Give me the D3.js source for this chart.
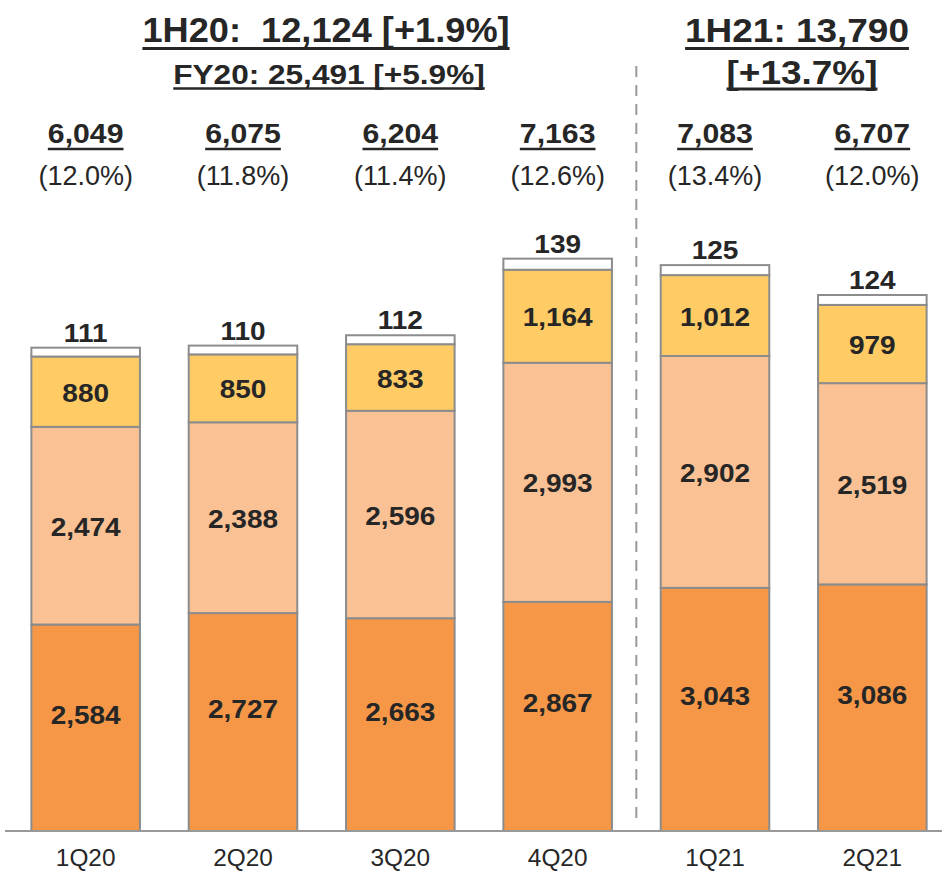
<!DOCTYPE html>
<html>
<head>
<meta charset="utf-8">
<script src="https://cdn.jsdelivr.net/npm/d3@7"></script>
<style>
  body { margin: 0; background: #fff; }
  text { font-family: "Liberation Sans", Arial, sans-serif; fill: #262626; white-space: pre; }
</style>
</head>
<body>
<div id="chart"></div>
<script>
var categories = ["1Q20", "2Q20", "3Q20", "4Q20", "1Q21", "2Q21"]
var seg1 = [2584, 2727, 2663, 2867, 3043, 3086]
var seg2 = [2474, 2388, 2596, 2993, 2902, 2519]
var seg3 = [880, 850, 833, 1164, 1012, 979]
var seg4 = [111, 110, 112, 139, 125, 124]
var totals = [6049, 6075, 6204, 7163, 7083, 6707]
var margins = ["(12.0%)", "(11.8%)", "(11.4%)", "(12.6%)", "(13.4%)", "(12.0%)"]
var headLeft = ["1H20:  12,124 [+1.9%]", "FY20: 25,491 [+5.9%]"]
var headRight = ["1H21: 13,790", "[+13.7%]"]

var colors = ["#f59747", "#f9c194", "#fecb64", "#ffffff"]
var W = 942, H = 874
var STRETCH = 1.12   // bold labels in the source are a bit wide

var svg = d3.select("#chart").append("svg")
  .attr("width", W).attr("height", H)

var x = d3.scaleBand()
  .domain(categories)
  .range([7, 951])
  .paddingInner(0.31)
  .paddingOuter(0.155)

var y = d3.scaleLinear()
  .domain([0, 10400])
  .range([831, 0])

var fmt = d3.format(",")

// text drawn slightly stretched horizontally, centered on cx
function wideText(txt, cx, by, size, weight, sx) {
  var g = svg.append("g")
    .attr("transform", "translate(" + cx + "," + by + ") scale(" + sx + ",1)")
  var t = g.append("text")
    .attr("text-anchor", "middle")
    .attr("font-size", size)
    .attr("font-weight", weight)
    .text(txt)
  return t.node().getComputedTextLength() * sx
}

function underlined(txt, cx, by, size, gap, thick, sx) {
  var w = wideText(txt, cx, by, size, "bold", sx || STRETCH)
  svg.append("line")
    .attr("x1", cx - w / 2).attr("x2", cx + w / 2)
    .attr("y1", by + gap).attr("y2", by + gap)
    .attr("stroke", "#262626").attr("stroke-width", thick)
}

// build stacked rows
var rows = categories.map(function(c, i) {
  return { cat: c, s0: seg1[i], s1: seg2[i], s2: seg3[i], s3: seg4[i] }
})
var stack = d3.stack().keys(["s0", "s1", "s2", "s3"])(rows)

var layers = svg.selectAll("g.layer")
  .data(stack)
  .enter().append("g")
  .attr("class", "layer")
  .attr("fill", function(d, i) { return colors[i] })

layers.selectAll("rect")
  .data(function(d) { return d })
  .enter().append("rect")
  .attr("x", function(d) { return x(d.data.cat) })
  .attr("y", function(d) { return y(d[1]) })
  .attr("width", x.bandwidth())
  .attr("height", function(d) { return y(d[0]) - y(d[1]) })
  .attr("stroke", "#8c8c8c")
  .attr("stroke-width", 2)

// labels inside bars (first three segments)
stack.slice(0, 3).forEach(function(layer, li) {
  var shift = li == 0 ? -4 : 10
  layer.forEach(function(d) {
    var cx = x(d.data.cat) + x.bandwidth() / 2
    var mid = (y(d[0]) + y(d[1])) / 2
    wideText(fmt(d[1] - d[0]), cx, mid + shift, 25, "bold", STRETCH)
  })
})

// top segment labels above the bar
stack[3].forEach(function(d) {
  var cx = x(d.data.cat) + x.bandwidth() / 2
  wideText(fmt(d[1] - d[0]), cx, y(d[1]) - 6, 25, "bold", STRETCH)
})

// axis line
svg.append("line")
  .attr("x1", 5).attr("x2", W)
  .attr("y1", y(0)).attr("y2", y(0))
  .attr("stroke", "#999").attr("stroke-width", 2)

// category labels
categories.forEach(function(c) {
  wideText(c, x(c) + x.bandwidth() / 2, 866, 23, "normal", 1.06)
})

// dashed separator between 4Q20 and 1Q21
var sepX = (x("4Q20") + x.bandwidth() + x("1Q21")) / 2
svg.append("line")
  .attr("x1", sepX).attr("x2", sepX)
  .attr("y1", 66).attr("y2", 826)
  .attr("stroke", "#999").attr("stroke-width", 2)
  .attr("stroke-dasharray", "11,8")

// totals and margins above each bar
categories.forEach(function(c, i) {
  var cx = x(c) + x.bandwidth() / 2
  underlined(fmt(totals[i]), cx, 143, 27, 6, 2.5)
  svg.append("text")
    .attr("x", cx).attr("y", 185)
    .attr("text-anchor", "middle")
    .attr("font-size", 27)
    .text(margins[i])
})

// headers
underlined(headLeft[0], 326, 42, 35.5, 6.5, 3, 1.02)
underlined(headLeft[1], 329, 84, 28.2, 4.5, 2.5)
underlined(headRight[0], 797, 42, 33, 6.5, 3)
underlined(headRight[1], 802, 84, 33, 5, 3)
</script>
</body>
</html>
